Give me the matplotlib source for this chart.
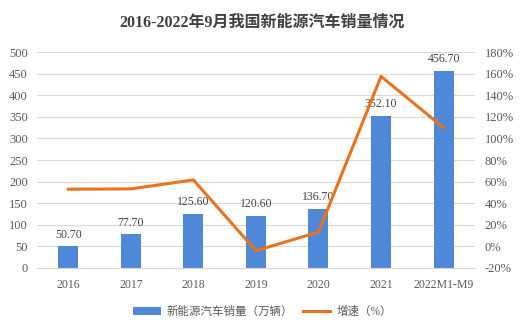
import matplotlib
matplotlib.use("Agg")
import matplotlib.pyplot as plt
from matplotlib.ticker import FuncFormatter

plt.rcParams['font.family'] = ['Liberation Serif', 'Noto Sans CJK SC']

categories = ["2016", "2017", "2018", "2019", "2020", "2021", "2022M1-M9"]
sales = [50.70, 77.70, 125.60, 120.60, 136.70, 352.10, 456.70]
growth = [53.0, 53.3, 61.6, -4.0, 13.3, 157.5, 110.0]

bar_color = "#4F88D8"
line_color = "#E8731C"
text_color = "#595959"

fig = plt.figure(figsize=(5.25, 3.28), dpi=100)
ax = fig.add_axes([0.0705, 0.183, 0.834, 0.658])
ax2 = ax.twinx()

x = list(range(len(categories)))
ax.bar(x, sales, width=0.32, color=bar_color, zorder=2, label="新能源汽车销量（万辆）")
for xi, v in zip(x, sales):
    ax.annotate(f"{v:.2f}", (xi, v), xytext=(0, 4), textcoords="offset points",
                ha="center", va="bottom", fontsize=8.5, color="#404040", zorder=5)

ax2.plot(x, growth, color=line_color, linewidth=2.2, zorder=3, label="增速（%）")

ax.set_ylim(0, 500)
ax.set_yticks(range(0, 501, 50))
ax2.set_ylim(-20, 180)
ax2.set_yticks(range(-20, 181, 20))
ax2.yaxis.set_major_formatter(FuncFormatter(lambda v, p: f"{int(v)}%"))
ax.set_xlim(-0.5, 6.5)
ax.set_xticks(x)
ax.set_xticklabels(categories)

ax.grid(axis="y", color="#D9D9D9", linewidth=0.8, zorder=0)
ax.set_axisbelow(True)
for a in (ax, ax2):
    for s in a.spines.values():
        s.set_visible(False)
    a.tick_params(length=0, labelsize=9, colors=text_color)
ax.tick_params(axis="y", pad=6.5)
ax2.tick_params(axis="y", pad=7)
ax.spines["bottom"].set_visible(True)
ax.spines["bottom"].set_color("#D9D9D9")
ax.tick_params(axis="x", pad=8, labelsize=8.5)

fig.text(0.5, 0.93, "2016-2022年9月我国新能源汽车销量情况", ha="center", va="center",
         fontsize=11.5, fontweight="bold", color="#404040")

h1, l1 = ax.get_legend_handles_labels()
h2, l2 = ax2.get_legend_handles_labels()
fig.legend(h1 + h2, l1 + l2, loc="center", bbox_to_anchor=(0.5, 0.05), ncol=2, frameon=False,
           fontsize=8.3, labelcolor=text_color, handlelength=2.4, columnspacing=0.8, handletextpad=0.5)

fig.savefig("out.png", dpi=100)
